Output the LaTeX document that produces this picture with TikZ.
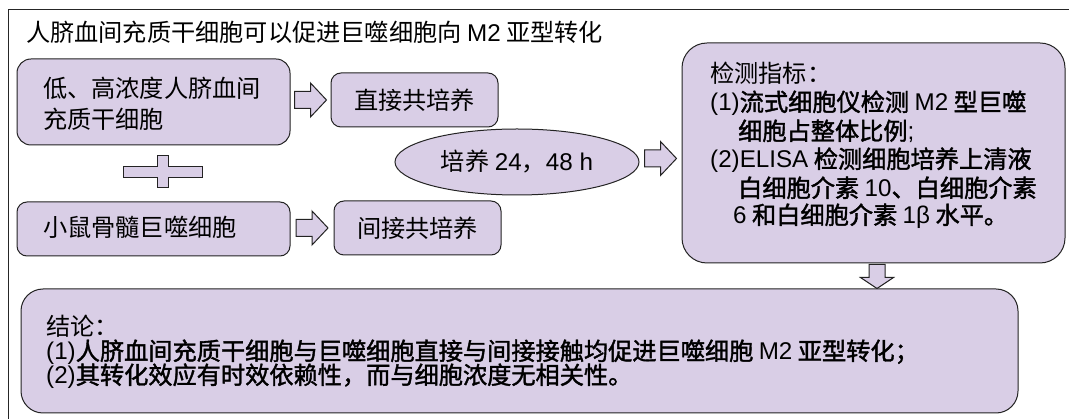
\documentclass[tikz,border=0pt]{standalone}
\usepackage{fontspec}
\setmainfont{Noto Sans CJK SC}
\newfontfamily\latf{Liberation Sans}
\newfontfamily\cjkfb{Noto Sans CJK SC}[FakeBold=1.6]
\newcommand{\ltn}[1]{{\latf #1}}
\newcommand{\bk}[1]{{\cjkfb #1}}
\usetikzlibrary{shapes.geometric,calc}
\definecolor{boxfill}{RGB}{217,206,230}
\definecolor{boxline}{RGB}{35,35,35}
\begin{document}
\begin{tikzpicture}[x=1pt,y=-1pt,
  txtfont/.style={font=\fontsize{24.2}{28}\selectfont},
  txt/.style={txtfont,inner sep=0pt,anchor=base west},
  box/.style={draw=boxline,fill=boxfill,line width=1pt,rectangle,inner sep=0pt,txtfont},
  oval/.style={draw=boxline,fill=boxfill,line width=1pt,ellipse,inner sep=0pt,txtfont},
  arrowshape/.style={draw=boxline,fill=boxfill,line width=1pt,line join=miter},
  frame/.style={draw=black!85,line width=0.9pt}]
\useasboundingbox (0,0) rectangle (1069,419);
\fill[white] (0,0) rectangle (1069,419);
% outer frame (right and bottom edges lie outside the picture)
\draw[frame] (8,419) -- (8,9) -- (1069,9);
% title
\node[txt] (title) at (26,42) {人脐血间充质干细胞可以促进巨噬细胞向 \ltn{M2} 亚型转化};
% boxes
\node[box,rounded corners=14pt,minimum width=273pt,minimum height=86pt] (b1) at (153.5,102) {};
\node[txt] (b1a) at (43,98) {低、高浓度人脐血间};
\node[txt] (b1b) at (43,129) {充质干细胞};
\node[box,rounded corners=10pt,minimum width=167pt,minimum height=54pt] (b2) at (414.5,100) {直接共培养};
\node[box,rounded corners=10pt,minimum width=273pt,minimum height=54pt] (b3) at (153.5,229) {};
\node[txt] (b3a) at (43,237) {小鼠骨髓巨噬细胞};
\node[box,rounded corners=10pt,minimum width=167pt,minimum height=54pt] (b4) at (417.5,228) {间接共培养};
\node[oval,minimum width=244pt,minimum height=66pt] (el) at (517,162) {培养 \ltn{24}，\ltn{48 h}};
\node[box,rounded corners=25pt,minimum width=383pt,minimum height=220pt] (rb) at (873.5,153) {};
\node[txt] (r1) at (710,83) {检测指标：};
\node[txt] (r2) at (710,111) {\ltn{(1)}\bk{流式细胞仪检测} \ltn{M2} \bk{型巨噬}};
\node[txt] (r3) at (738,140) {\bk{细胞占整体比例}\ltn{;}};
\node[txt] (r4) at (710,168) {\ltn{(2)ELISA} \bk{检测细胞培养上清液}};
\node[txt] (r5) at (738,197) {\bk{白细胞介素} \ltn{10}\bk{、白细胞介素}};
\node[txt] (r6) at (733,224) {\ltn{6} \bk{和白细胞介素} \ltn{1β} \bk{水平。}};
\node[box,rounded corners=22pt,minimum width=997pt,minimum height=124pt] (cb) at (519.5,351) {};
\node[txt] (c1) at (46,336) {结论：};
\node[txt] (c2) at (46,360) {\ltn{(1)}\bk{人脐血间充质干细胞与巨噬细胞直接与间接接触均促进巨噬细胞} \ltn{M2} \bk{亚型转化；}};
\node[txt] (c3) at (46,384) {\ltn{(2)}\bk{其转化效应有时效依赖性，而与细胞浓度无相关性。}};
% plus sign
\draw[arrowshape] (123,167) -- (157,167) -- (157,156) -- (168,156) -- (168,167) -- (202,167)
  -- (202,178) -- (168,178) -- (168,188) -- (157,188) -- (157,178) -- (123,178) -- cycle;
% block arrows between named boxes
\coordinate (a1) at ($($(b1.east)!0.5!(b2.west)$)+(-16,-1)$);
\coordinate (a2) at ($($(b3.east)!0.5!(b4.west)$)+(-16,-0.5)$);
\coordinate (a3) at ($($(el.east)!0.5!(rb.west)$)+(-16,1)$);
\foreach \p in {a1,a2,a3}{
  \draw[arrowshape] ($(\p)+(0,-8.5)$) -- ++(16,0) -- ++(0,-8.5) -- ++(16,17) -- ++(-16,17)
    -- ++(0,-8.5) -- ++(-16,0) -- cycle;
}
\coordinate (da) at ($(rb.south)+(3.5,1)$);
\draw[arrowshape] ($(da)+(-8,0)$) -- ++(16,0) -- ++(0,13) -- ++(8.5,0) -- ++(-16.5,11)
  -- ++(-16.5,-11) -- ++(8.5,0) -- cycle;
\end{tikzpicture}
\end{document}
